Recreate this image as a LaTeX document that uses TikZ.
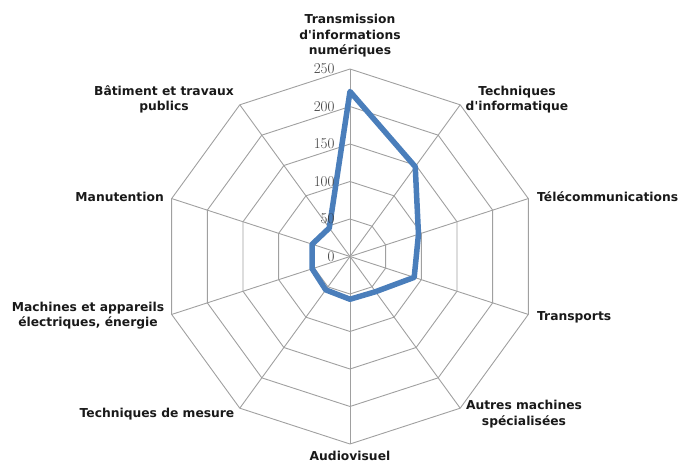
\documentclass[tikz,border=0pt]{standalone}
\usepackage{fontspec}
\newfontfamily\labelfont{DejaVu Sans}
\definecolor{serieblue}{RGB}{74,126,187}
\definecolor{gridgray}{RGB}{160,160,160}
\definecolor{ticktext}{RGB}{60,60,60}

\begin{document}
\begin{tikzpicture}[x=1pt,y=1pt]

    \tikzset{
      axislabel/.style={
        font=\labelfont\bfseries\fontsize{12.3}{15.5}\selectfont,
        text=black!90,
        align=center,
        inner sep=0pt,
      },
      ticklabel/.style={
        font=\fontsize{15}{15}\selectfont,
        text=ticktext,
        anchor=east,
      },
      gridline/.style={color=gridgray, line width=0.9pt},
      serie/.style={color=serieblue, line width=5.5pt, line join=round},
    }
    \useasboundingbox (-350,-207.5) rectangle (331,256.5);
    \coordinate (centre) at (0,0);
    % rings every 50
    \foreach \r in {1,...,5} {
      \draw[gridline] (90:37.5*\r) \foreach \k in {1,...,9} { -- (90-36*\k:37.5*\r) } -- cycle;
    }
    \foreach \k in {0,...,9} {
      \coordinate (v\k) at (90-36*\k:187.5);
      \draw[gridline] (centre) -- (v\k);
    }
    % data
    \foreach \val [count=\k from 0] in {220,148,96,90,58,57,55,53,53,47}
      \coordinate (p\k) at (90-36*\k:0.75*\val);
	\draw[serie] (p0)--(p1)--(p2)--(p3)--(p4)--(p5)--(p6)--(p7)--(p8)--(p9)--cycle;
    % scale, over the line
    \foreach \v in {0,50,...,250}
      \node[ticklabel] (tick\v) at (-12,0.75*\v) {\v};
    % axis names
	\node[axislabel] (transmission) at (0,220.5) {Transmission\\d'informations\\numériques};
	\node[axislabel] (informatique) at (167,157) {Techniques\\d'informatique};
	\node[axislabel,anchor=west] (telecom) at (187,59.5) {Télécommunications};
	\node[axislabel,anchor=west] (transports) at (187,-60.5) {Transports};
	\node[axislabel] (autres) at (174,-157.5) {Autres machines\\spécialisées};
	\node[axislabel] (audiovisuel) at (0,-199.5) {Audiovisuel};
	\node[axislabel] (mesure) at (-193,-157.5) {Techniques de mesure};
	\node[axislabel] (machines) at (-262,-59) {Machines et appareils\\électriques, énergie};
	\node[axislabel,anchor=east] (manutention) at (-186,59.5) {Manutention};
	\node[axislabel] (batiment) at (-186,157) {Bâtiment et travaux\\publics};

\end{tikzpicture}
\end{document}
